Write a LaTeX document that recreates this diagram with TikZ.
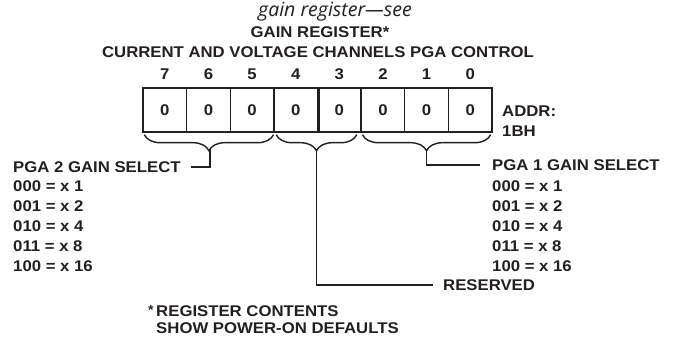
\documentclass[tikz,border=0pt]{standalone}
\usepackage{fontspec}
\setmainfont{Liberation Sans}[FakeStretch=1.08]
\newfontfamily\seefont{Open Sans}
\usepackage{xcolor}
\usetikzlibrary{positioning, calc, decorations.pathreplacing}
\definecolor{ink}{HTML}{231f20}
\tikzset{
  cell/.style = {rectangle, draw=ink, line width=1.4pt, minimum width=43.625pt,
    minimum height=44pt, inner sep=0pt, text=ink,
    font=\fontsize{15.5}{18}\selectfont\bfseries},
  bitnum/.style = {inner sep=0pt, text=ink, font=\fontsize{15.5}{18}\selectfont\bfseries},
  label/.style = {inner sep=2pt, text=ink, align=left,
    font=\fontsize{15.5}{20}\selectfont\bfseries},
  heading/.style = {inner sep=0pt, text=ink, font=\fontsize{15.5}{18}\selectfont\bfseries},
  brace/.style = {decorate, decoration={brace, mirror, amplitude=16pt},
    draw=ink, line width=1.4pt},
  leader/.style = {draw=ink, line width=1.5pt},
}

\begin{document}
\begin{tikzpicture}[x=1pt, y=-1pt]
\useasboundingbox (0,0) rectangle (674,339);

% titles
\node[inner sep=0pt, text=ink, font=\seefont\itshape\fontsize{19.5}{22}\selectfont] (see) at (335,12) {gain register—see};
\node[heading] (gainreg) at (320,32) {GAIN REGISTER*};
\node[heading] (title) at (318,52) {CURRENT AND VOLTAGE CHANNELS PGA CONTROL};

% register cells
\foreach \b [count=\i from 0] in {7,6,5,4,3,2,1,0} {
  \node[cell] (c\b) at (164.8+43.625*\i,110) {0};
  \node[bitnum] (n\b) at (164.8+43.625*\i,74) {\b};
}
\draw[draw=ink, line width=3.2pt] (c4.north east) -- (c4.south east);
\node[label, anchor=west, inner sep=0pt] (addr) at (502,121) {ADDR:\\1BH};

% braces
\draw[brace] ([xshift=2pt,yshift=-2pt]c7.south west) -- ([xshift=-1pt,yshift=-2pt]c5.south east);
\draw[brace] ([xshift=3pt,yshift=-2pt]c4.south west) -- ([xshift=-5pt,yshift=-2pt]c3.south east);
\draw[brace] ([xshift=2pt,yshift=-2pt]c2.south west) -- ([xshift=-2pt,yshift=-2pt]c0.south east);
\coordinate (tipA) at ($(c7.south west)!0.5!(c5.south east)+(1.5,16)$);
\coordinate (tipB) at ($(c4.south west)!0.5!(c3.south east)+(-1,16)$);
\coordinate (tipC) at ($(c2.south west)!0.5!(c0.south east)+(0,16)$);

% field labels
\node[label, anchor=west] (pga2) at (11,167) {PGA 2 GAIN SELECT};
\node[label, anchor=north west] (list2) at ([yshift=-4pt]pga2.south west) {000 = x 1\\001 = x 2\\010 = x 4\\011 = x 8\\100 = x 16};
\node[label, anchor=west] (pga1) at (490,165) {PGA 1 GAIN SELECT};
\node[label, anchor=north west] (list1) at ([yshift=-6pt]pga1.south west) {000 = x 1\\001 = x 2\\010 = x 4\\011 = x 8\\100 = x 16};
\node[label, anchor=west] (rsvd) at (441,285) {RESERVED};

\draw[leader] (tipA) |- ([xshift=8pt]pga2.east);
\draw[leader] (tipB) |- ([xshift=-8pt]rsvd.west);
\draw[leader] (tipC) |- ([xshift=-10pt]pga1.west);

% footnote
\node[label, anchor=north west, font=\fontsize{15.5}{17.5}\selectfont\bfseries] (note) at (146,303)
  {\raisebox{2pt}{\fontsize{13}{13}\selectfont*}\,REGISTER CONTENTS\\\phantom{\fontsize{13}{13}\selectfont*}\,SHOW POWER-ON DEFAULTS};
\end{tikzpicture}
\end{document}
